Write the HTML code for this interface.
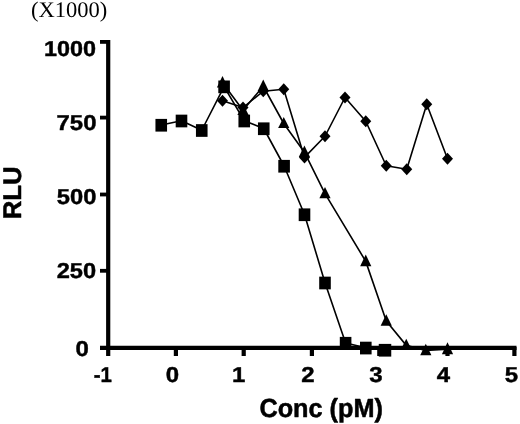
<!DOCTYPE html>
<html><head><meta charset="utf-8"><title>chart</title>
<style>
html,body{margin:0;padding:0;background:#fff;}
svg{display:block;}
text{font-family:"Liberation Sans",sans-serif;font-weight:bold;fill:#000;font-size:40px;stroke:#000;stroke-width:0.8px;stroke-linejoin:round;text-rendering:geometricPrecision;}
.s{font-family:"Liberation Serif",serif;font-weight:normal;stroke:none;}
</style></head><body>
<svg width="520" height="424" viewBox="0 0 520 424">
<rect width="520" height="424" fill="#fff"/>

<g stroke="#000" stroke-width="4.2" fill="none">
<path d="M108.2 40 V356"/>
<path d="M100 347.8 H516.5"/>
<path d="M175.9 347 V356"/>
<path d="M243.7 347 V356"/>
<path d="M311.9 347 V356"/>
<path d="M379.3 347 V356"/>
<path d="M447.5 347 V356"/>
<path d="M514.4 347 V356"/>
</g>
<g stroke="#000" stroke-width="3.8" fill="none">
<path d="M100 41.9 H108.2"/>
<path d="M100 117.6 H108.2"/>
<path d="M100 194.5 H108.2"/>
<path d="M100 270.8 H108.2"/>
</g>
<g stroke="#000" stroke-width="1.6" fill="none" stroke-linejoin="round">
<polyline points="161.25,125 181.5,120.75 201.75,130.25 224.1,86.6 244.25,120.75 263.75,128.5 284.1,166 304.5,214.5 325,282.75 345.6,343 365.8,347.8 385,350"/>
<polyline points="222.5,100.75 243,107.5 263.25,91.25 283.75,89.25 304.5,157.4 325,136.25 345,97.5 365.75,121.25 386.25,165.75 406.75,169.25 426.75,104.25 447.5,158.75"/>
<polyline points="222.5,82.75 243,110.25 263.25,86.25 283.75,123.5 304.4,152.2 325,193.625 365.75,261.375 386.25,321.0 406.25,345.375 425.8,350.45 447.5,349.25"/>
</g>
<g fill="#000">
<rect x="155.45" y="118.90" width="11.6" height="12.7"/>
<rect x="175.70" y="114.65" width="11.6" height="12.7"/>
<rect x="195.95" y="124.15" width="11.6" height="12.7"/>
<rect x="218.30" y="80.50" width="11.6" height="12.7"/>
<rect x="238.45" y="114.65" width="11.6" height="12.7"/>
<rect x="257.95" y="122.40" width="11.6" height="12.7"/>
<rect x="278.30" y="159.90" width="11.6" height="12.7"/>
<rect x="298.70" y="208.40" width="11.6" height="12.7"/>
<rect x="319.20" y="276.65" width="11.6" height="12.7"/>
<rect x="339.80" y="336.90" width="11.6" height="12.7"/>
<rect x="360.00" y="341.70" width="11.6" height="12.7"/>
<rect x="378.75" y="343.90" width="12.5" height="12.7"/>
<path d="M222.5 94.75 L228.0 100.75 L222.5 106.75 L217.0 100.75 Z"/>
<path d="M243 101.5 L248.5 107.5 L243 113.5 L237.5 107.5 Z"/>
<path d="M263.25 85.25 L268.75 91.25 L263.25 97.25 L257.75 91.25 Z"/>
<path d="M283.75 83.25 L289.25 89.25 L283.75 95.25 L278.25 89.25 Z"/>
<path d="M304.5 151.4 L310.0 157.4 L304.5 163.4 L299.0 157.4 Z"/>
<path d="M325 130.25 L330.5 136.25 L325 142.25 L319.5 136.25 Z"/>
<path d="M345 91.5 L350.5 97.5 L345 103.5 L339.5 97.5 Z"/>
<path d="M365.75 115.25 L371.25 121.25 L365.75 127.25 L360.25 121.25 Z"/>
<path d="M386.25 159.75 L391.75 165.75 L386.25 171.75 L380.75 165.75 Z"/>
<path d="M406.75 163.25 L412.25 169.25 L406.75 175.25 L401.25 169.25 Z"/>
<path d="M426.75 98.25 L432.25 104.25 L426.75 110.25 L421.25 104.25 Z"/>
<path d="M447.5 152.75 L453.0 158.75 L447.5 164.75 L442.0 158.75 Z"/>
<path d="M222.5 76 L228.1 87.5 L216.9 87.5 Z"/>
<path d="M243 103.5 L248.6 115 L237.4 115 Z"/>
<path d="M263.25 79.5 L268.85 91 L257.65 91 Z"/>
<path d="M283.75 117 L289.35 128 L278.15 128 Z"/>
<path d="M304.4 145.4 L310.0 157 L298.79999999999995 157 Z"/>
<path d="M325 187 L330.6 198.25 L319.4 198.25 Z"/>
<path d="M365.75 254.5 L371.35 266.25 L360.15 266.25 Z"/>
<path d="M386.25 314.25 L391.85 325.75 L380.65 325.75 Z"/>
<path d="M406.25 338.75 L411.85 350 L400.65 350 Z"/>
<path d="M425.8 343.7 L431.40000000000003 355.2 L420.2 355.2 Z"/>
<path d="M447.5 342.3 L453.1 354.2 L441.9 354.2 Z"/>
</g>
<text class="s" transform="translate(30.91,16.86) scale(0.5636,0.5572)">(X1000)</text>
<text transform="translate(44.03,55.77) scale(0.5854,0.5400)">1000</text>
<text transform="translate(56.55,129.93) scale(0.5977,0.5400)">750</text>
<text transform="translate(56.86,204.23) scale(0.5931,0.5400)">500</text>
<text transform="translate(56.71,278.18) scale(0.5907,0.5400)">250</text>
<text transform="translate(75.53,356.03) scale(0.6000,0.5400)">0</text>
<text transform="translate(93.66,381.84) scale(0.5104,0.5400)">-1</text>
<text transform="translate(165.67,382.12) scale(0.6000,0.5400)">0</text>
<text transform="translate(231.90,382.19) scale(0.6000,0.5400)">1</text>
<text transform="translate(301.35,382.11) scale(0.6000,0.5400)">2</text>
<text transform="translate(369.33,382.12) scale(0.6000,0.5400)">3</text>
<text transform="translate(436.73,382.19) scale(0.6000,0.5400)">4</text>
<text transform="translate(504.68,382.06) scale(0.6000,0.5400)">5</text>
<text transform="translate(259.41,417.0) scale(0.6314,0.6550)">Conc (pM)</text>
<text transform="translate(21.12,219.25) rotate(-90) scale(0.6423,0.6400)">RLU</text>
</svg></body></html>
